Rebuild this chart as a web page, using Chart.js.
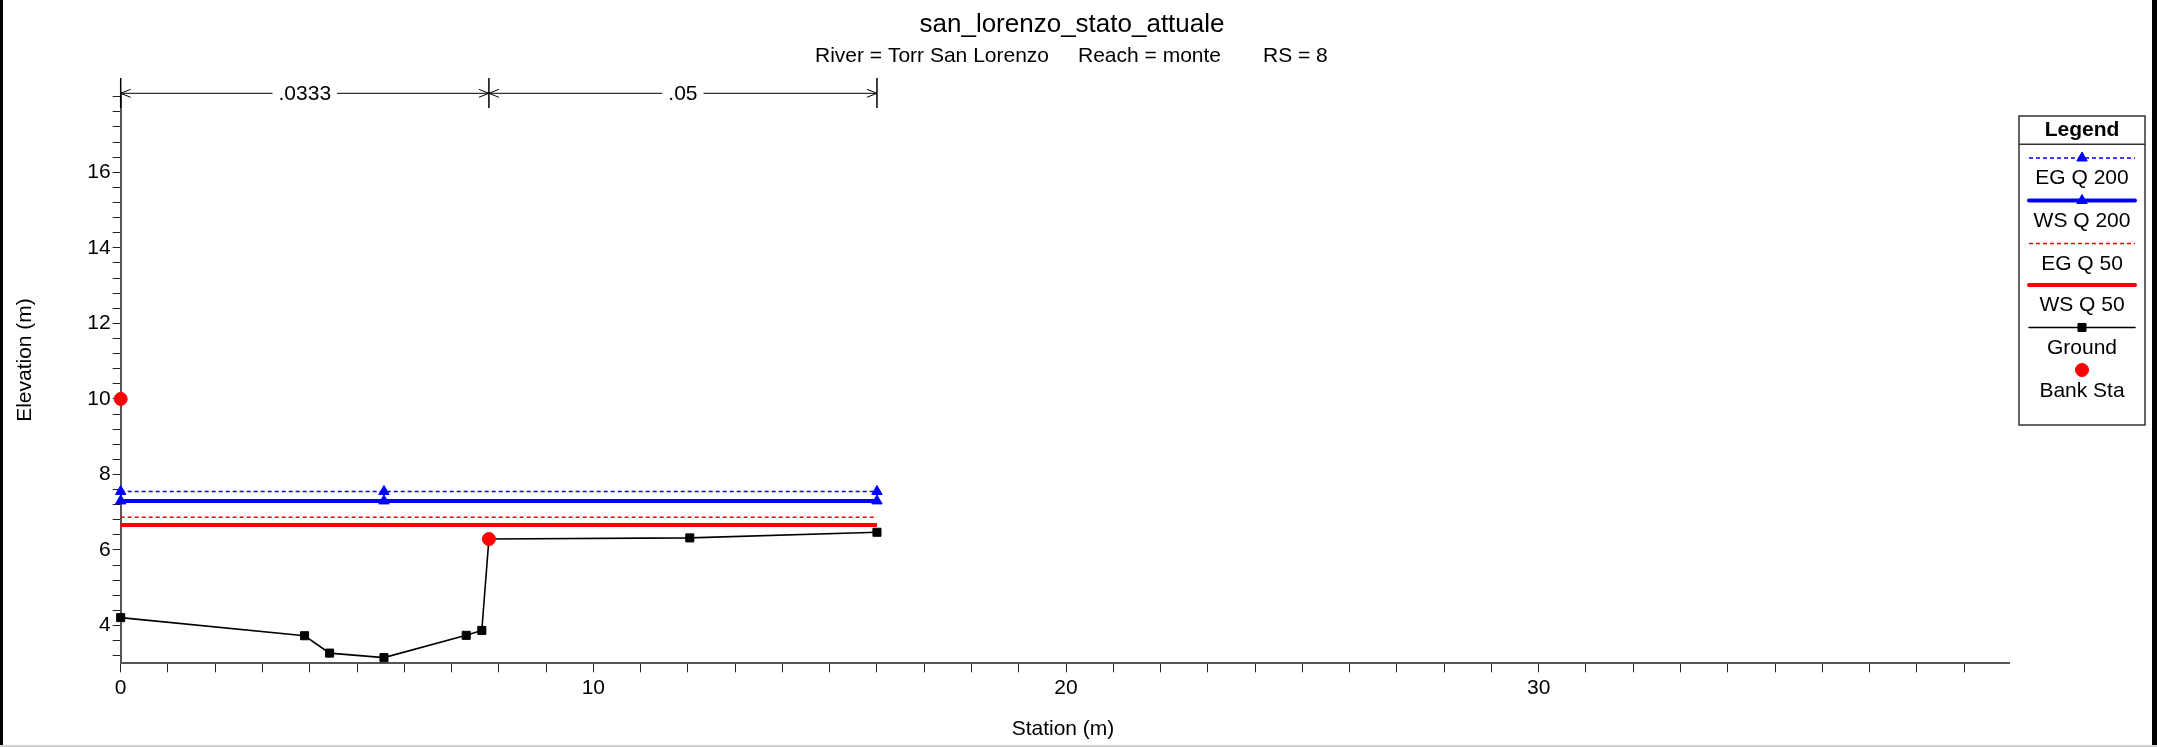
<!DOCTYPE html>
<html>
<head>
<meta charset="utf-8">
<title>san_lorenzo_stato_attuale</title>
<script src="https://cdn.jsdelivr.net/npm/chart.js@4.4.1/dist/chart.umd.min.js"></script>
<style>
  html, body { margin: 0; padding: 0; background: #fff; }
  #wrap { width: 2157px; height: 747px; }
</style>
</head>
<body>
<div id="wrap"><canvas id="xsChart" width="2157" height="747"></canvas></div>
<script>
// cross section RS 8
const groundStation = [0, 3.89, 4.42, 5.57, 7.31, 7.64, 7.79, 12.04, 16.0];
const groundElev = [4.21, 3.73, 3.27, 3.15, 3.74, 3.87, 6.29, 6.32, 6.47];

const bankStation = [0, 7.79];
const bankElev = [10.0, 6.29];

const wsStation = [0, 5.57, 16.0];
const egQ200 = [7.55, 7.55, 7.55];
const wsQ200 = [7.30, 7.30, 7.30];
const egQ50 = [6.87, 6.87, 6.87];
const wsQ50 = [6.66, 6.66, 6.66];

// manning n zones along the top
const manningStation = [0, 7.79, 16.0];
const manningValues = [".0333", ".05"];

const xTickLabels = [0, 10, 20, 30];
const yTickLabels = [4, 6, 8, 10, 12, 14, 16];

const FONT = "'Liberation Sans', Arial, sans-serif";

function toPoints(xs, ys) {
  return xs.map((x, i) => ({ x: x, y: ys[i] }));
}

function labelFor(list, v) {
  const hit = list.find((t) => Math.abs(t - v) < 1e-6);
  return hit === undefined ? "" : String(hit);
}

// title, frame, dimension lines and the boxed legend
const extrasPlugin = {
  id: "extras",
  afterDraw(chart) {
    const ctx = chart.ctx;
    const xs = chart.scales.x;
    ctx.save();

    // frame
    ctx.fillStyle = "#000";
    ctx.fillRect(0, 0, 3, 747);
    ctx.fillRect(2152, 0, 5, 747);
    ctx.fillStyle = "#d0d0d0";
    ctx.fillRect(0, 745, 2157, 2);

    // titles
    ctx.fillStyle = "#000";
    ctx.textBaseline = "alphabetic";
    ctx.textAlign = "center";
    ctx.font = "26px " + FONT;
    ctx.fillText("san_lorenzo_stato_attuale", 1072, 32);
    ctx.font = "21px " + FONT;
    ctx.textAlign = "left";
    ctx.fillText("River = Torr San Lorenzo", 815, 62);
    ctx.fillText("Reach = monte", 1078, 62);
    ctx.fillText("RS = 8", 1263, 62);

    // axis titles
    ctx.textAlign = "center";
    ctx.textBaseline = "middle";
    ctx.fillText("Station (m)", 1063, 729);
    ctx.save();
    ctx.translate(25, 360);
    ctx.rotate(-Math.PI / 2);
    ctx.fillText("Elevation (m)", 0, 0);
    ctx.restore();

    // manning n dimension lines
    const dimY = 93.3;
    ctx.strokeStyle = "#000";
    ctx.lineWidth = 1.5;
    manningStation.forEach((s) => {
      const px = xs.getPixelForValue(s);
      ctx.beginPath();
      ctx.moveTo(px, 78);
      ctx.lineTo(px, 108);
      ctx.stroke();
    });
    ctx.lineWidth = 1;
    for (let i = 0; i < manningValues.length; i++) {
      const a = xs.getPixelForValue(manningStation[i]);
      const b = xs.getPixelForValue(manningStation[i + 1]);
      const mid = (a + b) / 2;
      const half = ctx.measureText(manningValues[i]).width / 2 + 6;
      ctx.beginPath();
      ctx.moveTo(a, dimY);
      ctx.lineTo(mid - half, dimY);
      ctx.moveTo(mid + half, dimY);
      ctx.lineTo(b, dimY);
      // open arrow heads
      ctx.moveTo(a + 10, dimY - 4);
      ctx.lineTo(a, dimY);
      ctx.lineTo(a + 10, dimY + 4);
      ctx.moveTo(b - 10, dimY - 4);
      ctx.lineTo(b, dimY);
      ctx.lineTo(b - 10, dimY + 4);
      ctx.stroke();
      ctx.fillText(manningValues[i], mid, dimY + 1);
    }

    // legend box
    const lx = 2019, lw = 126, ly = 116, lh = 309;
    const cx = lx + lw / 2;
    ctx.strokeStyle = "#333";
    ctx.lineWidth = 1.5;
    ctx.strokeRect(lx, ly, lw, lh);
    ctx.beginPath();
    ctx.moveTo(lx, 144.3);
    ctx.lineTo(lx + lw, 144.3);
    ctx.stroke();
    ctx.font = "bold 21px " + FONT;
    ctx.fillText("Legend", cx, 130);
    ctx.font = "21px " + FONT;

    const rows = [
      { ds: 0, lineY: 158, textY: 178.5 },
      { ds: 1, lineY: 200.5, textY: 221 },
      { ds: 2, lineY: 243.5, textY: 264 },
      { ds: 3, lineY: 285, textY: 305.5 },
      { ds: 4, lineY: 327.5, textY: 348 },
      { ds: 5, lineY: 370, textY: 391 },
    ];
    rows.forEach((r) => {
      const d = chart.data.datasets[r.ds];
      if (d.showLine) {
        ctx.save();
        ctx.strokeStyle = d.borderColor;
        ctx.lineWidth = d.borderWidth;
        ctx.setLineDash(d.borderDash || []);
        ctx.lineCap = d.borderDash ? "butt" : "round";
        ctx.beginPath();
        ctx.moveTo(lx + 10, r.lineY);
        ctx.lineTo(lx + lw - 10, r.lineY);
        ctx.stroke();
        ctx.restore();
      }
      if (d.pointRadius > 0) {
        ctx.fillStyle = d.pointBackgroundColor;
        ctx.strokeStyle = d.pointBorderColor;
        ctx.lineWidth = 1;
        Chart.helpers.drawPoint(ctx, {
          pointStyle: d.pointStyle,
          radius: d.pointRadius,
          borderWidth: 1,
          rotation: 0,
        }, cx, r.lineY);
      }
      ctx.fillStyle = "#000";
      ctx.fillText(d.label, cx, r.textY);
    });

    ctx.restore();
  },
};

const ctx = document.getElementById("xsChart").getContext("2d");

new Chart(ctx, {
  type: "scatter",
  data: {
    datasets: [
      {
        label: "EG Q 200",
        data: toPoints(wsStation, egQ200),
        showLine: true,
        borderColor: "#0000ff",
        borderWidth: 1.5,
        borderDash: [4, 3],
        pointStyle: "triangle",
        pointRadius: 6,
        pointBackgroundColor: "#0000ff",
        pointBorderColor: "#0000ff",
        pointBorderWidth: 1,
        clip: false,
        order: 2,
      },
      {
        label: "WS Q 200",
        data: toPoints(wsStation, wsQ200),
        showLine: true,
        borderColor: "#0000ff",
        borderWidth: 4,
        pointStyle: "triangle",
        pointRadius: 6,
        pointBackgroundColor: "#0000ff",
        pointBorderColor: "#0000ff",
        pointBorderWidth: 1,
        clip: false,
        order: 1,
      },
      {
        label: "EG Q 50",
        data: toPoints(wsStation, egQ50),
        showLine: true,
        borderColor: "#ff0000",
        borderWidth: 1.5,
        borderDash: [4, 3],
        pointRadius: 0,
        clip: false,
        order: 4,
      },
      {
        label: "WS Q 50",
        data: toPoints(wsStation, wsQ50),
        showLine: true,
        borderColor: "#ff0000",
        borderWidth: 4,
        pointRadius: 0,
        clip: false,
        order: 3,
      },
      {
        label: "Ground",
        data: toPoints(groundStation, groundElev),
        showLine: true,
        borderColor: "#000",
        borderWidth: 1.6,
        pointStyle: "rect",
        pointRadius: 5.7,
        pointBackgroundColor: "#000",
        pointBorderColor: "#000",
        pointBorderWidth: 1,
        clip: false,
        order: 5,
      },
      {
        label: "Bank Sta",
        data: toPoints(bankStation, bankElev),
        showLine: false,
        pointStyle: "circle",
        pointRadius: 6.5,
        pointBackgroundColor: "#ff0000",
        pointBorderColor: "#ff0000",
        pointBorderWidth: 1,
        clip: false,
        order: 0,
      },
    ],
  },
  options: {
    responsive: false,
    animation: false,
    events: [],
    layout: { padding: { top: 93, right: 148, left: 0, bottom: 0 } },
    plugins: {
      legend: { display: false },
      tooltip: { enabled: false },
      title: { display: false },
    },
    scales: {
      x: {
        type: "linear",
        position: "bottom",
        min: 0,
        max: 39.95,
        afterFit: (scale) => {
          scale.height = 83.7;
        },
        ticks: {
          stepSize: 1,
          autoSkip: false,
          includeBounds: false,
          maxRotation: 0,
          padding: 3,
          color: "#000",
          font: { family: FONT, size: 21 },
          callback: (v) => labelFor(xTickLabels, v),
        },
        grid: {
          drawOnChartArea: false,
          drawTicks: true,
          tickLength: 9,
          color: "#222",
          lineWidth: 1,
        },
        border: { color: "#555", width: 2 },
      },
      y: {
        type: "linear",
        position: "left",
        min: 3,
        max: 18.1,
        afterFit: (scale) => {
          scale.width = 120.7;
        },
        ticks: {
          stepSize: 0.4,
          autoSkip: false,
          includeBounds: false,
          padding: 2,
          color: "#000",
          font: { family: FONT, size: 21 },
          callback: (v) => labelFor(yTickLabels, v),
        },
        grid: {
          drawOnChartArea: false,
          drawTicks: true,
          tickLength: 8,
          color: "#222",
          lineWidth: 1,
        },
        border: { color: "#555", width: 2 },
      },
    },
  },
  plugins: [extrasPlugin],
});
</script>
</body>
</html>
